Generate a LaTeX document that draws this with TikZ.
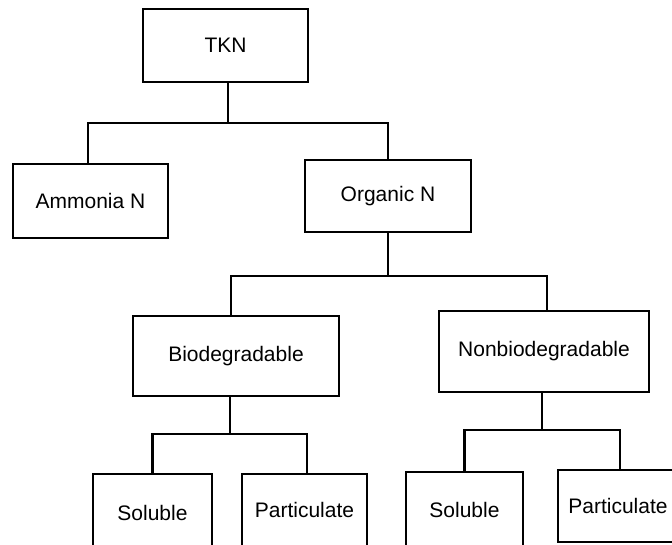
\documentclass[tikz,border=0pt]{standalone}
\usepackage{fontspec}
\setmainfont{Liberation Sans}
\begin{document}
\begin{tikzpicture}[x=1pt,y=-1pt,
  box/.style={draw,rectangle,line width=1.6pt,inner sep=0pt,font=\fontsize{21}{25}\selectfont},
  conn/.style={line width=2.8pt}]
\useasboundingbox (0,0) rectangle (672,544);
\clip (0,0) rectangle (672,544);
\node[box,minimum width=165,minimum height=73] (tkn) at (225.5,45.5) {TKN};
\node[box,minimum width=155,minimum height=74] (amm) at (90.5,201) {Ammonia N};
\node[box,minimum width=166,minimum height=72] (org) at (388,196) {Organic N};
\node[box,minimum width=206,minimum height=80] (bio) at (236,356) {Biodegradable};
\node[box,minimum width=210,minimum height=81] (non) at (544,351.5) {Nonbiodegradable};
\node[box,minimum width=119,minimum height=78] (sol1) at (152.5,513) {Soluble};
\node[box,minimum width=125,minimum height=72] (par1) at (304.5,510) {Particulate};
\node[box,minimum width=117,minimum height=76] (sol2) at (464.5,510) {Soluble};
\node[box,minimum width=120,minimum height=72] (par2) at (618,506) {Particulate};
\coordinate (j1) at (228,123);
\coordinate (j2) at (388,276);
\coordinate (j3) at (230,434);
\coordinate (j4) at (542,430);
\draw[conn] ([xshift=2.5pt]tkn.south) -- (j1);
\draw[conn] ([xshift=-2.5pt]amm.north) |- (j1) -| (org.north);
\draw[conn] (org.south) -- (j2);
\draw[conn] ([xshift=-5pt]bio.north) |- (j2) -| ([xshift=3pt]non.north);
\draw[conn] ([xshift=-6pt]bio.south) -- (j3);
\draw[conn] (sol1.north) |- (j3) -| ([xshift=2.5pt]par1.north);
\draw[conn] ([xshift=-2pt]non.south) -- (j4);
\draw[conn] (sol2.north) |- (j4) -| ([xshift=2pt]par2.north);
\end{tikzpicture}
\end{document}
